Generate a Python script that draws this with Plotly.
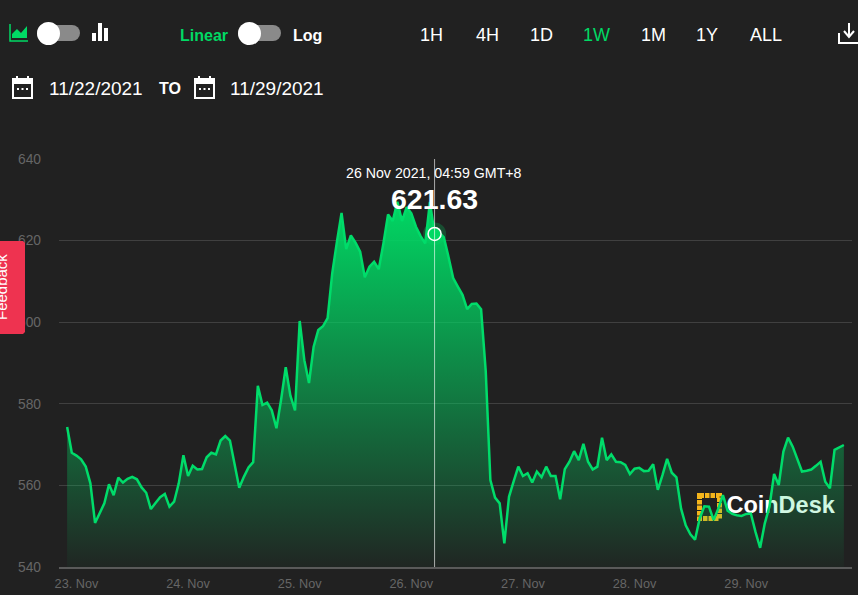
#!/usr/bin/env python3
"""CoinDesk style one week price chart, 22-29 Nov 2021."""

import pandas as pd
import plotly.graph_objects as go

W, H = 858, 595
BG = "#212121"
GREEN = "#00d964"
FONT = "Liberation Sans"

# hourly prices
prices = [
    574.3, 568.0, 567.3, 566.4, 564.6, 560.5, 550.8, 553.1, 555.6, 560.3,
    557.6, 561.9, 560.7, 561.6, 562.1, 561.5, 559.5, 558.2, 554.2, 555.7,
    557.1, 557.9, 554.8, 556.0, 560.5, 567.4, 562.3, 564.8, 563.9, 564.0,
    566.9, 568.0, 567.6, 571.0, 572.1, 571.0, 565.4, 559.4, 562.1, 564.4,
    565.7, 584.4, 579.7, 580.3, 578.4, 574.0, 581.0, 589.0, 582.0, 578.4,
    600.3, 590.7, 585.1, 594.0, 598.1, 599.0, 601.0, 612.0, 619.7, 626.8,
    617.9, 621.3, 619.5, 617.3, 611.0, 613.6, 614.8, 613.0, 619.3, 626.4,
    624.8, 629.5, 624.8, 628.2, 626.7, 623.4, 621.1, 619.3, 629.5, 621.63,
    622.0, 620.8, 616.0, 610.8, 608.7, 606.7, 603.2, 604.5, 604.6, 603.2,
    588.0, 561.3, 557.0, 555.6, 545.8, 557.2, 561.0, 564.6, 562.3, 563.0,
    560.7, 563.4, 562.0, 564.6, 562.3, 562.3, 556.6, 564.0, 565.8, 568.4,
    566.2, 570.2, 565.8, 563.9, 564.6, 571.7, 566.2, 567.6, 565.8, 565.7,
    565.0, 562.8, 564.1, 564.3, 563.5, 563.6, 565.2, 558.9, 562.5, 566.5,
    563.1, 562.0, 554.3, 550.2, 548.0, 546.7, 551.9, 554.9, 554.8, 551.5,
    554.3, 557.6, 553.8, 553.0, 552.7, 552.5, 553.0, 553.1, 548.6, 544.7,
    550.7, 554.8, 562.8, 560.1, 568.3, 571.7, 569.5, 566.6, 563.4, 563.6,
    563.9, 564.8, 565.8, 560.9, 559.3, 568.7, 569.3, 569.9,
]
times = pd.date_range("2021-11-22 22:00", periods=len(prices), freq="h")

y_ticks = [540, 560, 580, 600, 620, 640]
x_ticks = pd.date_range("2021-11-23", "2021-11-29", freq="D")
x_labels = ["23. Nov", "24. Nov", "25. Nov", "26. Nov", "27. Nov", "28. Nov", "29. Nov"]

hover_index = 79
hover_time = times[hover_index]
hover_price = prices[hover_index]
logo_time = pd.Timestamp("2021-11-29 07:24")
logo_price = 554.7

range_buttons = ["1H", "4H", "1D", "1W", "1M", "1Y", "ALL"]
range_centers = [431, 487, 541, 596, 653, 707, 766]


def px(x):
    return x / W


def py(y):
    return 1 - y / H


def text(x, y, s, size=18, color="white", bold=False, anchor="left", angle=0):
    # placed on the hidden pixel axes
    if bold:
        s = "<b>" + s + "</b>"
    return dict(
        xref="x2", yref="y2", x=x, y=y, text=s, showarrow=False,
        xanchor=anchor, yanchor="middle", textangle=angle,
        font=dict(family=FONT, size=size, color=color),
    )


def rect(x0, y0, x1, y1, color, layer="above"):
    return dict(
        type="rect", xref="paper", yref="paper", layer=layer,
        x0=px(x0), x1=px(x1), y0=py(y0), y1=py(y1),
        fillcolor=color, line_width=0,
    )


def path(points, fill=None, line=None, width=2, close=False, layer="above"):
    d = "M" + "L".join(f"{px(x):.5f},{py(y):.5f}" for x, y in points)
    if close:
        d += "Z"
    return dict(
        type="path", xref="paper", yref="paper", layer=layer, path=d,
        fillcolor=fill if fill else "rgba(0,0,0,0)",
        line=dict(color=line if line else "rgba(0,0,0,0)", width=width),
    )


def circle(cx, cy, r, color, layer="above"):
    return dict(
        type="circle", xref="paper", yref="paper", layer=layer,
        x0=px(cx - r), x1=px(cx + r), y0=py(cy - r), y1=py(cy + r),
        fillcolor=color, line_width=0,
    )


def toggle(x0, x1, knob):
    # track is a thick round capped look: rect plus two end circles
    return [
        circle(x0 + 8, 33, 8, "#8a8a8a"),
        circle(x1 - 8, 33, 8, "#8a8a8a"),
        rect(x0 + 8, 25, x1 - 8, 41, "#8a8a8a"),
        circle(knob, 33.5, 11.5, "white"),
    ]


def calendar(x):
    return [
        path([(x + 1, 79), (x + 20, 79), (x + 20, 98), (x + 1, 98)], line="white", close=True),
        rect(x + 1, 79, x + 20, 84, "white"),
        rect(x + 4, 76, x + 6, 80, "white"),
        rect(x + 15, 76, x + 17, 80, "white"),
        rect(x + 5, 88, x + 7, 90, "white"),
        rect(x + 9.5, 88, x + 11.5, 90, "white"),
        rect(x + 14, 88, x + 16, 90, "white"),
    ]


shapes = []

# crosshair
shapes.append(dict(
    type="line", xref="x", yref="paper", x0=hover_time, x1=hover_time,
    y0=py(567), y1=py(159), line=dict(color="rgba(255,255,255,0.62)", width=1),
))

# chart type icons and toggles
shapes.append(path([(10, 24), (10, 41), (28, 41)], line=GREEN, width=1.5))
shapes.append(path([(12, 38), (12, 34), (17, 29), (21, 33), (27, 26), (27, 38)], fill=GREEN, close=True))
shapes.append(rect(92, 33, 96, 41, "white"))
shapes.append(rect(98, 23, 102, 41, "white"))
shapes.append(rect(104, 28, 108, 41, "white"))
shapes += toggle(37, 80, 48.5)
shapes += toggle(238, 281, 249.5)

# date row
shapes += calendar(12)
shapes += calendar(194)

# download icon
shapes.append(path([(839, 33), (839, 43), (858, 43)], line="white", width=2))
shapes.append(path([(849, 23), (849, 36)], line="white", width=2))
shapes.append(path([(844, 31), (849, 37), (854, 31)], line="white", width=2))

# feedback tab, small cut corners on the right
shapes.append(path([(0, 241), (23, 241), (25, 243), (25, 332), (23, 334), (0, 334)],
                   fill="#ee3350", close=True, width=0))

# logo mark, sits under the price line
shapes.append(dict(
    type="rect", xref="paper", yref="paper", layer="below",
    x0=px(699.5), x1=px(719.5), y0=py(495.5), y1=py(518.5),
    fillcolor="rgba(0,0,0,0)",
    line=dict(color="#f5b51b", width=5, dash="4.5px,1px"),
))

annotations = [
    text(178, 35, "Linear", size=16, color=GREEN, bold=True),
    text(291, 35, "Log", size=16, bold=True),
    text(46.5, 88, "11/22/2021", size=19),
    text(156.5, 88, "TO", size=16, bold=True),
    text(228, 88, "11/29/2021", size=19),
    text(434, 173, "26 Nov 2021, 04:59 GMT+8", size=14.2, anchor="center"),
    text(434, 199, f"{hover_price:.2f}", size=28.5, bold=True, anchor="center"),
    text(1, 287, "Feedback", size=15, angle=-90, anchor="center"),
]
for label, center in zip(range_buttons, range_centers):
    annotations.append(text(center, 35, label, size=18, anchor="center",
                            color=GREEN if label == "1W" else "white"))

fig = go.Figure()

# wordmark first so the area and line are painted over it
fig.add_trace(go.Scatter(
    x=[logo_time], y=[logo_price], mode="text", text=["<b>CoinDesk</b>"],
    textposition="middle center", hoverinfo="skip", showlegend=False,
    textfont=dict(family=FONT, size=23.5, color="white"),
))
fig.add_trace(go.Scatter(
    x=times, y=prices, mode="lines", hoverinfo="skip", showlegend=False,
    line=dict(color="#00dc6a", width=2.5),
    fill="tozeroy",
    fillgradient=dict(
        type="vertical", start=630, stop=540,
        colorscale=[[0, "rgba(0,217,100,1)"], [1, "rgba(0,217,100,0.03)"]],
    ),
))
# hover point: halo then ring
fig.add_trace(go.Scatter(
    x=[hover_time], y=[hover_price], mode="markers", hoverinfo="skip", showlegend=False,
    marker=dict(size=23, color="rgba(0,217,100,0.25)", line_width=0),
))
fig.add_trace(go.Scatter(
    x=[hover_time], y=[hover_price], mode="markers", hoverinfo="skip", showlegend=False,
    marker=dict(size=13, color="#00d964", line=dict(color="white", width=1.5)),
))
# empty trace so the hidden pixel axes exist
fig.add_trace(go.Scatter(x=[None], y=[None], xaxis="x2", yaxis="y2", hoverinfo="skip", showlegend=False))

fig.update_layout(
    width=W, height=H, autosize=False,
    margin=dict(l=0, r=0, t=0, b=0, autoexpand=False),
    paper_bgcolor=BG, plot_bgcolor="rgba(0,0,0,0)",
    shapes=shapes, annotations=annotations,
    font=dict(family=FONT),
    xaxis=dict(
        domain=[px(59), px(852)],
        range=[times[0] - pd.Timedelta(hours=1.75), times[-1] + pd.Timedelta(hours=1.75)],
        type="date", tickmode="array", tickvals=x_ticks, ticktext=x_labels,
        showgrid=False, zeroline=False, ticks="", ticklabelstandoff=4,
        showline=True, linecolor="#5a5a5a", linewidth=1.5,
        tickfont=dict(family=FONT, size=12.7, color="#666666"),
    ),
    yaxis=dict(
        domain=[py(567), py(159)],
        range=[540, 640], tickmode="array", tickvals=y_ticks,
        showgrid=True, gridcolor="#404040", gridwidth=1.3, zeroline=False,
        ticks="", ticklabelstandoff=17,
        tickfont=dict(family=FONT, size=13.8, color="#666666"),
    ),
    xaxis2=dict(domain=[0, 1], range=[0, W], visible=False, anchor="y2"),
    yaxis2=dict(domain=[0, 1], range=[H, 0], visible=False, anchor="x2"),
)

# the page has a default 8px body margin, drop it so the figure fills the window
fig.write_html(
    "out.html",
    config={"displayModeBar": False},
    post_script="document.body.style.margin='0';document.body.style.overflow='hidden';",
)
